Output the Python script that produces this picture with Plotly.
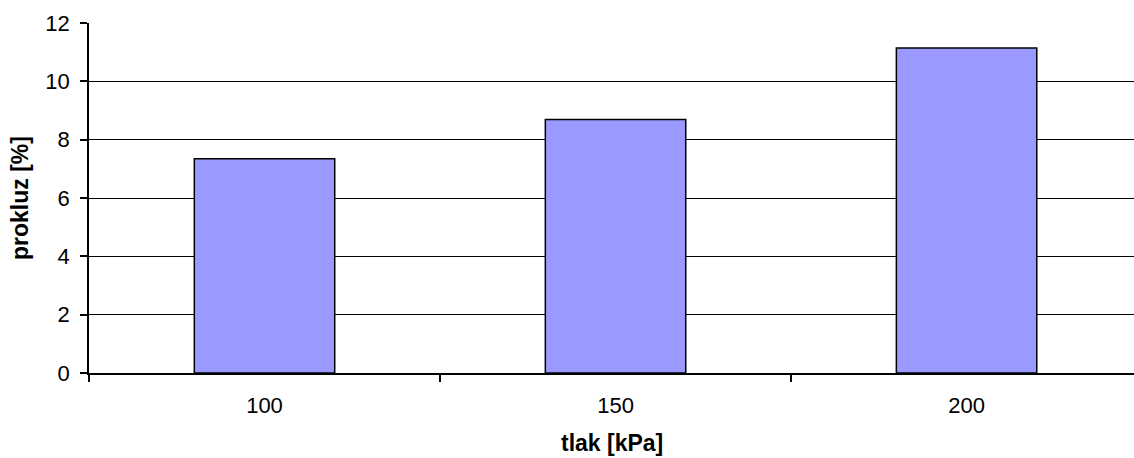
import plotly.graph_objects as go

# tlak [kPa] vs. prokluz [%]
pressure = ["100", "150", "200"]
slip = [7.35, 8.69, 11.14]
y_ticks = [0, 2, 4, 6, 8, 10, 12]

fig = go.Figure()
fig.add_trace(go.Bar(
    x=pressure,
    y=slip,
    marker=dict(color="#9999FF", line=dict(color="#000000", width=1.5)),
    showlegend=False,
))

font_family = "Liberation Sans, Arial, sans-serif"

fig.update_layout(
    width=1134,
    height=458,
    margin=dict(l=89, r=0, t=23, b=85),
    paper_bgcolor="white",
    plot_bgcolor="white",
    bargap=0.6,
    font=dict(family=font_family, size=22, color="#000000"),
    xaxis=dict(
        type="category",
        # last category slot runs past the right edge of the page
        range=[-0.5, 2.477],
        automargin=False,
        tickson="boundaries",
        ticks="outside",
        ticklen=7,
        tickwidth=1.5,
        tickcolor="#000000",
        ticklabelstandoff=12,
        showline=True,
        linecolor="#000000",
        linewidth=1.5,
        showgrid=False,
        tickfont=dict(size=22),
    ),
    yaxis=dict(
        range=[0, 12],
        tickvals=y_ticks,
        automargin=False,
        ticks="outside",
        ticklen=7,
        tickwidth=1.5,
        tickcolor="#000000",
        ticklabelstandoff=6,
        showline=True,
        linecolor="#000000",
        linewidth=1.5,
        showgrid=True,
        gridcolor="#000000",
        gridwidth=1,
        zeroline=False,
        tickfont=dict(size=22),
        title=dict(text="<b>prokluz [%]</b>", font=dict(size=23), standoff=10),
    ),
    # x-axis title placed as an annotation so it can sit near the bottom edge
    annotations=[dict(
        text="<b>tlak [kPa]</b>",
        xref="paper", yref="paper",
        x=0.5, y=0,
        xanchor="center", yanchor="middle",
        yshift=-70,
        showarrow=False,
        font=dict(size=23, family=font_family, color="#000000"),
    )],
)

fig.write_html("out.html")
